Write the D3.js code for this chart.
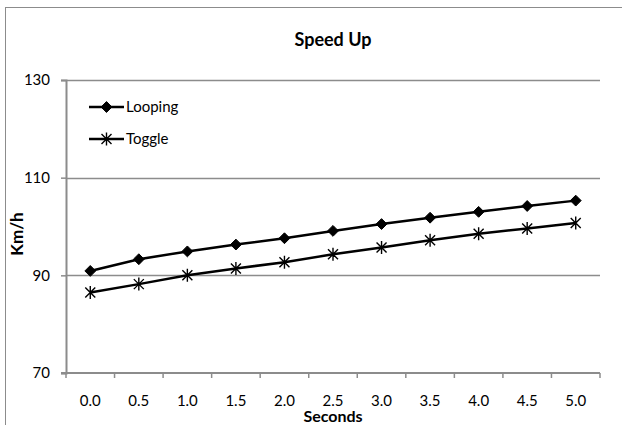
<!DOCTYPE html>
<html>
<head>
<meta charset="utf-8">
<script src="https://cdn.jsdelivr.net/npm/d3@7"></script>
<style>
  body { margin: 0; background: #fff; }
  text { font-family: Lato, "Open Sans", sans-serif; fill: #000; }
</style>
</head>
<body>
<div id="viz"></div>
<script>
// chart data
var seconds = ['0.0', '0.5', '1.0', '1.5', '2.0', '2.5', '3.0', '3.5', '4.0', '4.5', '5.0'];
var looping = [90.9, 93.3, 94.9, 96.3, 97.6, 99.1, 100.5, 101.8, 103.0, 104.2, 105.3];
var toggle = [86.5, 88.2, 90.0, 91.4, 92.7, 94.3, 95.7, 97.2, 98.5, 99.6, 100.7];
var yTicks = [70, 90, 110, 130];

var width = 622, height = 425;
var plotLeft = 66, plotRight = 600, plotTop = 80, plotBottom = 373;

var svg = d3.select('#viz').append('svg')
  .attr('width', width)
  .attr('height', height);

// outer chart frame (runs off the right and bottom of the picture)
svg.append('rect')
  .attr('x', 5.5).attr('y', 7.5)
  .attr('width', 640).attr('height', 440)
  .attr('fill', 'none')
  .attr('stroke', '#8c8c8c')
  .attr('stroke-width', 1);

// scales
var x = d3.scaleBand().domain(seconds).range([plotLeft, plotRight]);
var y = d3.scaleLinear().domain([70, 130]).range([plotBottom, plotTop]);

// horizontal gridlines
svg.append('g')
  .selectAll('line')
  .data(yTicks.slice(1))
  .enter()
  .append('line')
  .attr('x1', plotLeft).attr('x2', plotRight)
  .attr('y1', function (d) { return Math.round(y(d)) + 0.5; })
  .attr('y2', function (d) { return Math.round(y(d)) + 0.5; })
  .attr('stroke', '#8c8c8c')
  .attr('stroke-width', 1.5);

// y axis
var yAxis = svg.append('g')
  .attr('transform', 'translate(' + plotLeft + ',0)')
  .call(d3.axisLeft(y).tickValues(yTicks).tickSize(5).tickPadding(11));
yAxis.select('.domain').attr('stroke', '#8c8c8c').attr('stroke-width', 2);
yAxis.selectAll('.tick line').attr('stroke', '#8c8c8c').attr('stroke-width', 1.5);
yAxis.selectAll('.tick text').style('font-size', '15px');

// x axis: ticks sit between categories
var xAxis = svg.append('g')
  .attr('transform', 'translate(0,' + plotBottom + ')');
xAxis.append('line')
  .attr('x1', plotLeft - 5).attr('x2', plotRight)
  .attr('stroke', '#8c8c8c').attr('stroke-width', 2);
var boundaries = seconds.map(function (d) { return x(d); }).concat([plotRight]);
xAxis.selectAll('.xtick')
  .data(boundaries)
  .enter()
  .append('line')
  .attr('class', 'xtick')
  .attr('x1', function (d) { return d; })
  .attr('x2', function (d) { return d; })
  .attr('y1', 0).attr('y2', 5)
  .attr('stroke', '#8c8c8c').attr('stroke-width', 1.5);
xAxis.selectAll('.xlabel')
  .data(seconds)
  .enter()
  .append('text')
  .attr('class', 'xlabel')
  .attr('x', function (d) { return x(d) + x.bandwidth() / 2; })
  .attr('y', 33)
  .attr('text-anchor', 'middle')
  .style('font-size', '15px')
  .text(function (d) { return d; });

// titles
svg.append('text')
  .attr('x', (plotLeft + plotRight) / 2)
  .attr('y', 46)
  .attr('text-anchor', 'middle')
  .style('font-size', '18px')
  .style('font-weight', 'bold')
  .text('Speed Up');

svg.append('text')
  .attr('x', 333)
  .attr('y', 422)
  .attr('text-anchor', 'middle')
  .style('font-size', '16px')
  .style('font-weight', 'bold')
  .text('Seconds');

svg.append('text')
  .attr('transform', 'translate(23,234) rotate(-90)')
  .attr('text-anchor', 'middle')
  .style('font-size', '17px')
  .style('font-weight', 'bold')
  .text('Km/h');

// series lines and markers
var line = d3.line()
  .x(function (d, i) { return x(seconds[i]) + x.bandwidth() / 2; })
  .y(function (d) { return y(d); });

var diamond = d3.symbol().type(d3.symbolDiamond2).size(75)();
// Excel style star: an X crossed by a vertical stroke
var star = 'M-5,-5L5,5M-5,5L5,-5M0,-6.5L0,6.5';

function drawSeries(values, symbolPath, filled) {
  var g = svg.append('g');
  g.append('path')
    .datum(values)
    .attr('d', line)
    .attr('fill', 'none')
    .attr('stroke', '#000')
    .attr('stroke-width', 2.5);
  g.selectAll('.marker')
    .data(values)
    .enter()
    .append('path')
    .attr('class', 'marker')
    .attr('transform', function (d, i) {
      return 'translate(' + (x(seconds[i]) + x.bandwidth() / 2) + ',' + y(d) + ')';
    })
    .attr('d', symbolPath)
    .attr('fill', filled ? '#000' : 'none')
    .attr('stroke', '#000')
    .attr('stroke-width', filled ? 1 : 1.4);
}

drawSeries(looping, diamond, true);
drawSeries(toggle, star, false);

// legend
var legendItems = [
  { name: 'Looping', symbol: diamond, filled: true },
  { name: 'Toggle', symbol: star, filled: false }
];
var legend = svg.append('g').selectAll('g')
  .data(legendItems)
  .enter()
  .append('g')
  .attr('transform', function (d, i) { return 'translate(89,' + (107 + i * 32) + ')'; });
legend.append('line')
  .attr('x1', 0).attr('x2', 35)
  .attr('stroke', '#000').attr('stroke-width', 2.5);
legend.append('path')
  .attr('transform', 'translate(17.5,0)')
  .attr('d', function (d) { return d.symbol; })
  .attr('fill', function (d) { return d.filled ? '#000' : 'none'; })
  .attr('stroke', '#000')
  .attr('stroke-width', function (d) { return d.filled ? 1 : 1.4; });
legend.append('text')
  .attr('x', 37)
  .attr('y', 5)
  .style('font-size', '15px')
  .text(function (d) { return d.name; });
</script>
</body>
</html>
